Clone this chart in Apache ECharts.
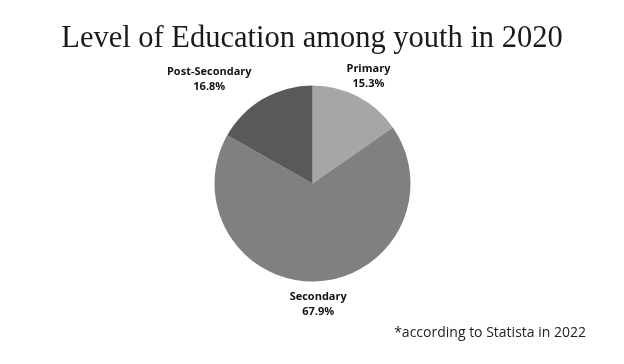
<!DOCTYPE html>
<html>
<head>
<meta charset="utf-8">
<script src="https://cdn.jsdelivr.net/npm/echarts@6/dist/echarts.min.js"></script>
<style>
html,body{margin:0;padding:0;background:#fff;}
#chart{width:624px;height:364px;}
</style>
</head>
<body>
<div id="chart"></div>
<script>
var titleText = 'Level of Education among youth in 2020';
var footnote = '*according to Statista in 2022';
var categories = ['Primary', 'Secondary', 'Post-Secondary'];
var values = [15.3, 67.9, 16.8];
var colors = ['#a6a6a6', '#808080', '#595959'];

var chart = echarts.init(document.getElementById('chart'));
var CX = 312.5, CY = 183.5, R = 98, LABEL_OFFSET = 23;
var total = values.reduce(function(a, b){ return a + b; }, 0);

function midAngle(i) {
  var before = 0;
  for (var k = 0; k < i; k++) before += values[k];
  return (before + values[i] / 2) / total * Math.PI * 2;
}

chart.setOption({
  backgroundColor: '#ffffff',
  animation: false,
  title: [{
    text: titleText,
    left: 'center',
    top: 18,
    textStyle: { fontFamily: 'Liberation Serif', fontWeight: 'normal', fontSize: 30.5, color: '#1a1a1a' }
  }, {
    text: footnote,
    right: 33,
    top: 321,
    textStyle: { fontFamily: 'Open Sans', fontWeight: 'normal', fontSize: 14, color: '#222' }
  }],
  series: [{
    type: 'pie',
    center: [CX, CY],
    radius: [0, R],
    startAngle: 90,
    clockwise: true,
    silent: true,
    data: categories.map(function(c, i){
      return { name: c, value: values[i], itemStyle: { color: colors[i] } };
    }),
    itemStyle: { borderWidth: 0 },
    label: {
      show: true,
      position: 'outside',
      formatter: function(p){ return '{n|' + p.name + '}\n{v|' + p.value.toFixed(1) + '%}'; },
      rich: {
        n: { fontFamily: 'Open Sans', fontWeight: 'bold', fontSize: 11, color: '#111', lineHeight: 15, align: 'center' },
        v: { fontFamily: 'Open Sans', fontWeight: 'bold', fontSize: 11, color: '#111', lineHeight: 15, align: 'center' }
      }
    },
    labelLine: { show: false },
    labelLayout: function(params){
      var a = midAngle(params.dataIndex);
      var s = Math.sin(a), c = Math.cos(a);
      var d = R + LABEL_OFFSET;
      var x = CX + d * s, y = CY - d * c;
      var align = 'center';
      if (s < -0.3) { align = 'right'; }
      return { x: x, y: y, align: align, verticalAlign: 'middle' };
    }
  }]
});
</script>
</body>
</html>
